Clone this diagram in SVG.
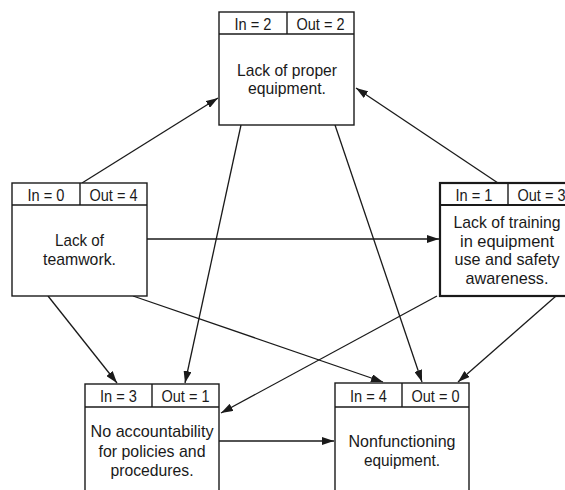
<svg xmlns="http://www.w3.org/2000/svg" width="565" height="490" viewBox="0 0 565 490">
<style>
.box{fill:#fff;stroke:#1a1a1a;stroke-width:1.4}
.thick{stroke-width:2.2}
.t{font-family:"Liberation Sans",Arial,sans-serif;font-size:17px;fill:#1a1a1a;text-anchor:middle}
.c{stroke:#1a1a1a;stroke-width:1.3;fill:none;marker-end:url(#ah)}
</style>
<defs>
<marker id="ah" viewBox="0 0 12 8" refX="12" refY="4" markerWidth="12" markerHeight="8" markerUnits="userSpaceOnUse" orient="auto">
<path d="M0,0 L12,4 L0,8 Z" fill="#1a1a1a"/>
</marker>
</defs>
<rect width="565" height="490" fill="#fff"/>
<g id="connectors">
<line class="c" x1="82" y1="183" x2="218" y2="98"/>
<line class="c" x1="498" y1="183" x2="356" y2="88"/>
<line class="c" x1="147" y1="239" x2="439" y2="239"/>
<line class="c" x1="241" y1="125" x2="185" y2="383"/>
<line class="c" x1="335" y1="125" x2="422" y2="382"/>
<line class="c" x1="48" y1="296" x2="117" y2="383"/>
<line class="c" x1="133" y1="296" x2="383" y2="382"/>
<line class="c" x1="437" y1="296" x2="221" y2="413"/>
<line class="c" x1="556" y1="296" x2="458" y2="382"/>
<line class="c" x1="219" y1="441" x2="334" y2="441"/>
</g>
<g id="n-equipment">
<rect class="box" x="219" y="12" width="135" height="113"/>
<line class="box" x1="219" y1="34" x2="354" y2="34"/>
<line class="box" x1="287" y1="12" x2="287" y2="34"/>
<text class="t" x="253" y="30" textLength="37" lengthAdjust="spacingAndGlyphs">In = 2</text>
<text class="t" x="320.5" y="30" textLength="48" lengthAdjust="spacingAndGlyphs">Out = 2</text>
<text class="t" x="287" y="76" textLength="100" lengthAdjust="spacingAndGlyphs">Lack of proper</text>
<text class="t" x="287" y="94" textLength="78" lengthAdjust="spacingAndGlyphs">equipment.</text>
</g>
<g id="n-teamwork">
<rect class="box" x="12" y="183" width="135" height="113"/>
<line class="box" x1="12" y1="205" x2="147" y2="205"/>
<line class="box" x1="80" y1="183" x2="80" y2="205"/>
<text class="t" x="46" y="201" textLength="37" lengthAdjust="spacingAndGlyphs">In = 0</text>
<text class="t" x="113.5" y="201" textLength="48" lengthAdjust="spacingAndGlyphs">Out = 4</text>
<text class="t" x="79.5" y="246" textLength="49" lengthAdjust="spacingAndGlyphs">Lack of</text>
<text class="t" x="79.5" y="265" textLength="73" lengthAdjust="spacingAndGlyphs">teamwork.</text>
</g>
<g id="n-training">
<rect class="box thick" x="440" y="183" width="135" height="113"/>
<line class="box thick" x1="440" y1="205" x2="575" y2="205"/>
<line class="box" x1="508" y1="183" x2="508" y2="205"/>
<text class="t" x="474" y="201" textLength="37" lengthAdjust="spacingAndGlyphs">In = 1</text>
<text class="t" x="541.5" y="201" textLength="48" lengthAdjust="spacingAndGlyphs">Out = 3</text>
<text class="t" x="507" y="228" textLength="107" lengthAdjust="spacingAndGlyphs">Lack of training</text>
<text class="t" x="507" y="246.5" textLength="94" lengthAdjust="spacingAndGlyphs">in equipment</text>
<text class="t" x="507" y="265" textLength="105" lengthAdjust="spacingAndGlyphs">use and safety</text>
<text class="t" x="507" y="283.5" textLength="83" lengthAdjust="spacingAndGlyphs">awareness.</text>
</g>
<g id="n-accountability">
<rect class="box" x="85" y="384" width="134" height="120"/>
<line class="box" x1="85" y1="407" x2="219" y2="407"/>
<line class="box" x1="152" y1="384" x2="152" y2="407"/>
<text class="t" x="118.5" y="402" textLength="37" lengthAdjust="spacingAndGlyphs">In = 3</text>
<text class="t" x="185.5" y="402" textLength="48" lengthAdjust="spacingAndGlyphs">Out = 1</text>
<text class="t" x="152" y="437" textLength="123" lengthAdjust="spacingAndGlyphs">No accountability</text>
<text class="t" x="152" y="456.5" textLength="107" lengthAdjust="spacingAndGlyphs">for policies and</text>
<text class="t" x="152" y="476" textLength="83" lengthAdjust="spacingAndGlyphs">procedures.</text>
</g>
<g id="n-nonfunctioning">
<rect class="box" x="335" y="383" width="134" height="121"/>
<line class="box" x1="335" y1="407" x2="469" y2="407"/>
<line class="box" x1="402" y1="383" x2="402" y2="407"/>
<text class="t" x="368.5" y="402" textLength="37" lengthAdjust="spacingAndGlyphs">In = 4</text>
<text class="t" x="435.5" y="402" textLength="48" lengthAdjust="spacingAndGlyphs">Out = 0</text>
<text class="t" x="402" y="447" textLength="107" lengthAdjust="spacingAndGlyphs">Nonfunctioning</text>
<text class="t" x="402" y="466" textLength="76" lengthAdjust="spacingAndGlyphs">equipment.</text>
</g>
</svg>
